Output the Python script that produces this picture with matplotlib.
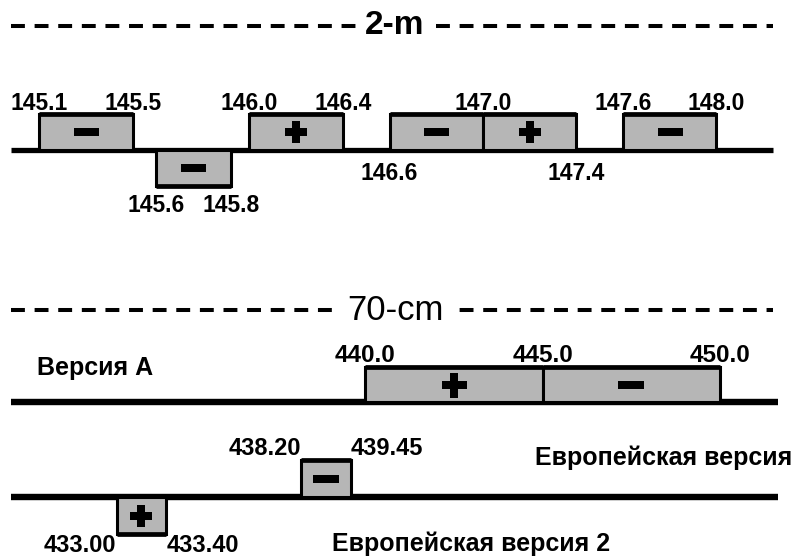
import matplotlib.pyplot as plt
from matplotlib.patches import Rectangle

plt.rcParams['font.family'] = ['Liberation Sans', 'DejaVu Sans']
plt.rcParams['lines.scale_dashes'] = False

# 2-m band plan (MHz)
vhf_lo = [145.1, 145.6, 146.0, 146.6, 147.0, 147.6]
vhf_hi = [145.5, 145.8, 146.4, 147.0, 147.4, 148.0]
vhf_sign = ['-', '-', '+', '-', '+', '-']
vhf_ticks = [145.1, 145.5, 145.6, 145.8, 146.0, 146.4, 146.6, 147.0, 147.4, 147.6, 148.0]
vhf_labels = ['145.1', '145.5', '145.6', '145.8', '146.0', '146.4',
              '146.6', '147.0', '147.4', '147.6', '148.0']

# 70-cm, version A
uhf_a_lo = [440.0, 445.0]
uhf_a_hi = [445.0, 450.0]
uhf_a_sign = ['+', '-']
uhf_a_ticks = [440.0, 445.0, 450.0]
uhf_a_labels = ['440.0', '445.0', '450.0']

# 70-cm, European version
uhf_eu_lo = [438.20, 433.00]
uhf_eu_hi = [439.45, 433.40]
uhf_eu_sign = ['-', '+']
uhf_eu_ticks = [438.20, 439.45, 433.00, 433.40]
uhf_eu_labels = ['438.20', '439.45', '433.00', '433.40']

GRAY = '#b6b6b6'
MINUS = [(-1, -0.33), (1, -0.33), (1, 0.33), (-1, 0.33), (-1, -0.33)]


def draw_bands(ax, lo, hi, sign, side, base, height, minw, psize, msize):
    # boxes sit on (or hang under) the base line; narrow ones get a min width
    edge = {}
    for l, h, s, sd in zip(lo, hi, sign, side):
        hd = max(h, l + minw)
        edge[l] = l
        edge[h] = hd
        y0 = base - height if sd == 'up' else base
        ax.add_patch(Rectangle((l, y0), hd - l, height, fc=GRAY, ec='k',
                               lw=2.2, zorder=3))
        yo = y0 if sd == 'up' else base + height
        ax.plot([l, hd], [yo, yo], color='k', lw=3.4, zorder=4,
                solid_capstyle='butt')
        xc, yc = (l + hd) / 2, y0 + height / 2
        if s == '+':
            ax.plot(xc, yc, marker='P', ms=psize, mfc='k', mec='k', mew=0,
                    ls='none', zorder=5)
        else:
            ax.plot(xc, yc, marker=MINUS, ms=msize, mfc='k', mec='k', mew=0,
                    ls='none', zorder=5)
    return edge


def header(ax, y, text, xc, weight, size):
    ax.plot([0.0136, 0.953], [y, y], color='k', lw=2.9,
            ls=(0, (10.0, 7.0)), transform=ax.get_yaxis_transform())
    ax.text(xc, y, text, ha='center', va='center', fontsize=size,
            fontweight=weight, transform=ax.get_yaxis_transform(),
            bbox=dict(fc='white', ec='none', pad=6))


def baseline(ax, y, x1, lw):
    ax.plot([0.0136, x1], [y, y], color='k', lw=lw,
            transform=ax.get_yaxis_transform(), solid_capstyle='butt', zorder=2)


fig = plt.figure(figsize=(8.11, 5.58), dpi=100)

# ---- 2-m ----
ax1 = fig.add_axes([0, 0, 1, 1])
ax1.set_xlim(144.9317, 148.4049)
ax1.set_ylim(558, 0)
ax1.axis('off')

header(ax1, 26, '2-m', 0.486, 'bold', 24)
baseline(ax1, 150, 0.953, 3.8)
vhf_side = ['up', 'down', 'up', 'up', 'up', 'up']
edge = draw_bands(ax1, vhf_lo, vhf_hi, vhf_sign, vhf_side, 150, 36, 0.32, 16, 18)
rows = {'top': 110, 'mid': 180, 'low': 212}
vhf_row = ['top', 'top', 'low', 'low', 'top', 'top', 'mid', 'top', 'mid', 'top', 'top']
for v, t, r in zip(vhf_ticks, vhf_labels, vhf_row):
    ax1.text(edge.get(v, v), rows[r], t, ha='center', va='baseline',
             fontsize=16.5, fontweight='bold')

# ---- 70-cm ----
ax2 = fig.add_axes([0, 0, 1, 1])
ax2.set_xlim(429.718, 452.563)
ax2.set_ylim(558, 0)
ax2.axis('off')

header(ax2, 310, '70-cm', 0.488, 'normal', 25)

baseline(ax2, 402, 0.959, 4.6)
edge_a = draw_bands(ax2, uhf_a_lo, uhf_a_hi, uhf_a_sign, ['up', 'up'],
                    402, 35, 1.4, 18, 19)
for v, t in zip(uhf_a_ticks, uhf_a_labels):
    ax2.text(edge_a.get(v, v), 362, t, ha='center', va='baseline',
             fontsize=17.5, fontweight='bold')
ax2.text(0.0456, 375, 'Версия А', fontsize=18, fontweight='bold',
         va='baseline', transform=ax2.get_yaxis_transform())

baseline(ax2, 497, 0.959, 4.6)
edge_eu = draw_bands(ax2, uhf_eu_lo, uhf_eu_hi, uhf_eu_sign, ['up', 'down'],
                     497, 37, 1.4, 16, 19)
eu_row = [455, 455, 552, 552]
eu_ha = ['right', 'left', 'right', 'left']
for v, t, r, h in zip(uhf_eu_ticks, uhf_eu_labels, eu_row, eu_ha):
    ax2.text(edge_eu.get(v, v), r, t, ha=h, va='baseline',
             fontsize=17, fontweight='bold')
ax2.text(0.66, 465, 'Европейская версия', fontsize=18, fontweight='bold',
         va='baseline', transform=ax2.get_yaxis_transform())
ax2.text(0.409, 551, 'Европейская версия 2', fontsize=18, fontweight='bold',
         va='baseline', transform=ax2.get_yaxis_transform())

fig.savefig('out.png', dpi=100)
